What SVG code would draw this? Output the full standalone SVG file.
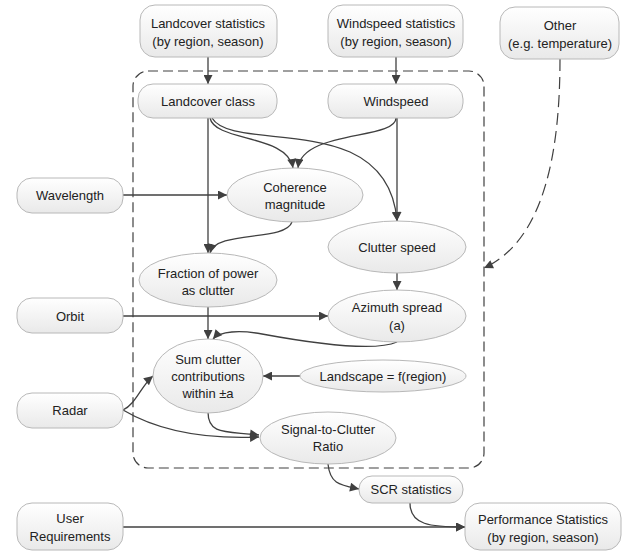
<svg xmlns="http://www.w3.org/2000/svg" width="628" height="552" viewBox="0 0 628 552">
<defs>
<linearGradient id="g" x1="0" y1="0" x2="0" y2="1">
<stop offset="0" stop-color="#ffffff"/>
<stop offset="1" stop-color="#e9e9e9"/>
</linearGradient>
<marker id="ah" viewBox="0 0 10 10" refX="10" refY="5" markerWidth="10" markerHeight="9" markerUnits="userSpaceOnUse" orient="auto">
<path d="M0,0 L10,5 L0,10 z" fill="#404040"/>
</marker>
</defs>
<style>
.n{fill:url(#g);stroke:#b8b8b8;stroke-width:1}
.t{font-family:"Liberation Sans",Arial,sans-serif;font-size:13px;fill:#222;text-anchor:middle;dominant-baseline:central}
.e{fill:none;stroke:#404040;stroke-width:1.3;marker-end:url(#ah)}
.d{fill:none;stroke:#404040;stroke-width:1.2;stroke-dasharray:12 6;marker-end:url(#ah)}
</style>
<rect width="628" height="552" fill="#fff"/>
<g id="container">
<rect x="133" y="71" width="351" height="397" rx="15" fill="none" stroke="#404040" stroke-width="1.2" stroke-dasharray="10 5"/>
</g>
<g id="connectors">
<path class="e" d="M208,57 L208,84"/>
<path class="e" d="M396,57 L396,84"/>
<path class="e" d="M208,118 L208,253"/>
<path class="e" d="M210,118 C215,142 288,134 293,168"/>
<path class="e" d="M212,118 C226,142 300,130 350,152 C385,168 395,195 397,221"/>
<path class="e" d="M397,118 L397,221"/>
<path class="e" d="M396,118 C396,140 302,130 298,168"/>
<path class="e" d="M123,195 L227,195"/>
<path class="e" d="M292,222 C285,242 216,230 210,253"/>
<path class="e" d="M397,273 L397,290"/>
<path class="e" d="M123,316 L328,316"/>
<path class="e" d="M208,307 L208,339"/>
<path class="e" d="M397,342 C372,353 300,341 262,334 C240,330 220,331 213,339"/>
<path class="e" d="M300,376 L263,376"/>
<path class="e" d="M123,410 C136,404 141,386 153,376"/>
<path class="e" d="M123,410 C150,426 190,440 259,437"/>
<path class="e" d="M208,412 C208,436 228,431 259,435"/>
<path class="e" d="M328,464 C330,484 340,485 359,489"/>
<path class="e" d="M410,503 C410,525 430,527 465,527"/>
<path class="e" d="M123,527 L465,527"/>
<path class="d" d="M560,59 C560,150 545,240 484,268"/>
</g>
<g id="landcover-stats"><rect class="n" x="140" y="5" width="137" height="52" rx="15"/><text class="t" x="208" y="23">Landcover statistics</text><text class="t" x="208" y="41">(by region, season)</text></g>
<g id="windspeed-stats"><rect class="n" x="328" y="5" width="135" height="52" rx="15"/><text class="t" x="396" y="23">Windspeed statistics</text><text class="t" x="396" y="41">(by region, season)</text></g>
<g id="other"><rect class="n" x="500" y="7" width="119" height="52" rx="15"/><text class="t" x="560" y="25">Other</text><text class="t" x="560" y="43">(e.g. temperature)</text></g>
<g id="landcover-class"><rect class="n" x="138" y="84" width="139" height="34" rx="15"/><text class="t" x="208" y="101">Landcover class</text></g>
<g id="windspeed"><rect class="n" x="328" y="84" width="135" height="34" rx="15"/><text class="t" x="396" y="101">Windspeed</text></g>
<g id="wavelength"><rect class="n" x="17" y="178" width="106" height="35" rx="15"/><text class="t" x="70" y="195">Wavelength</text></g>
<g id="coherence"><ellipse class="n" cx="295" cy="195" rx="68" ry="27"/><text class="t" x="295" y="187">Coherence</text><text class="t" x="295" y="204">magnitude</text></g>
<g id="clutter-speed"><ellipse class="n" cx="397" cy="247" rx="69" ry="26"/><text class="t" x="397" y="247">Clutter speed</text></g>
<g id="fraction"><ellipse class="n" cx="208" cy="280" rx="69" ry="27"/><text class="t" x="208" y="273">Fraction of power</text><text class="t" x="208" y="290">as clutter</text></g>
<g id="orbit"><rect class="n" x="17" y="298" width="106" height="35" rx="15"/><text class="t" x="70" y="316">Orbit</text></g>
<g id="azimuth"><ellipse class="n" cx="397" cy="316" rx="69" ry="26"/><text class="t" x="397" y="307">Azimuth spread</text><text class="t" x="397" y="325">(a)</text></g>
<g id="sum-clutter"><ellipse class="n" cx="208" cy="376" rx="55" ry="37"/><text class="t" x="208" y="359">Sum clutter</text><text class="t" x="208" y="376">contributions</text><text class="t" x="208" y="393">within ±a</text></g>
<g id="landscape"><ellipse class="n" cx="383" cy="376" rx="83" ry="16"/><text class="t" x="383" y="376">Landscape = f(region)</text></g>
<g id="radar"><rect class="n" x="17" y="393" width="106" height="35" rx="15"/><text class="t" x="70" y="410">Radar</text></g>
<g id="scr"><ellipse class="n" cx="328" cy="438" rx="68" ry="26"/><text class="t" x="328" y="429">Signal-to-Clutter</text><text class="t" x="328" y="446">Ratio</text></g>
<g id="scr-stats"><rect class="n" x="359" y="476" width="104" height="27" rx="13"/><text class="t" x="411" y="489">SCR statistics</text></g>
<g id="user-req"><rect class="n" x="17" y="503" width="106" height="47" rx="15"/><text class="t" x="70" y="518">User</text><text class="t" x="70" y="536">Requirements</text></g>
<g id="performance"><rect class="n" x="465" y="503" width="156" height="47" rx="15"/><text class="t" x="543" y="519">Performance Statistics</text><text class="t" x="543" y="537">(by region, season)</text></g>
</svg>
